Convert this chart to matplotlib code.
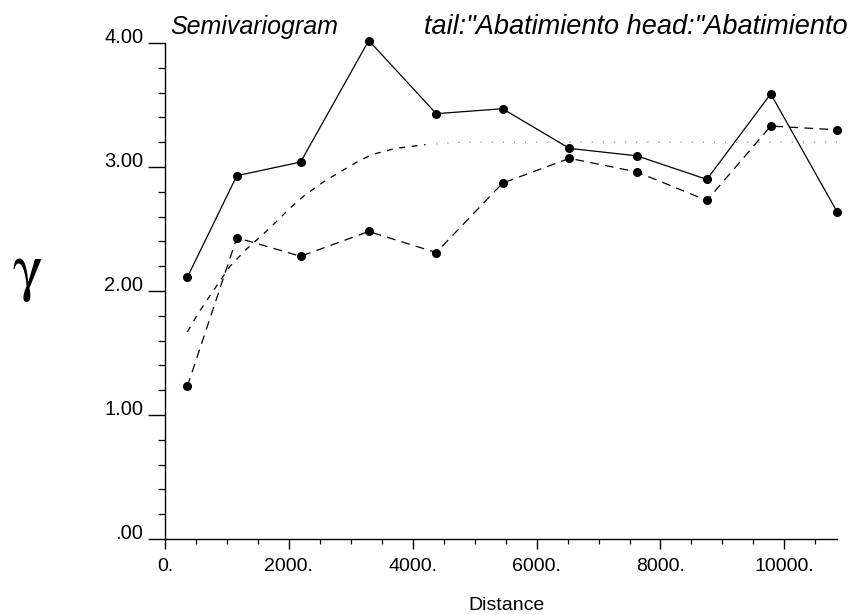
import matplotlib
matplotlib.use("Agg")
import matplotlib.pyplot as plt
from matplotlib.ticker import MultipleLocator

# Lag distances shared by both experimental semivariograms
lag_distance = [360, 1160, 2190, 3290, 4380, 5450, 6530, 7620, 8750, 9780, 10850]
# Experimental semivariogram values
gamma_solid = [2.11, 2.93, 3.04, 4.02, 3.43, 3.47, 3.15, 3.09, 2.90, 3.59, 2.64]
gamma_dashed = [1.23, 2.43, 2.28, 2.48, 2.31, 2.87, 3.07, 2.96, 2.73, 3.33, 3.30]

# Fitted model curve (rising part and sill)
model_distance = [360, 550, 750, 1050, 1320, 1590, 1800, 2020, 2250, 2560,
                  2790, 3100, 3340, 3720, 4200]
model_gamma = [1.67, 1.83, 1.98, 2.20, 2.34, 2.46, 2.56, 2.67, 2.77, 2.88,
               2.95, 3.04, 3.10, 3.15, 3.18]
sill_distance = [4200, 4800, 10850]
sill_gamma = [3.18, 3.20, 3.20]

y_ticks = [0, 1, 2, 3, 4]
y_tick_labels = [".00", "1.00", "2.00", "3.00", "4.00"]
x_ticks = [0, 2000, 4000, 6000, 8000, 10000]
x_tick_labels = ["0.", "2000.", "4000.", "6000.", "8000.", "10000."]

plt.rcParams["font.family"] = ["Liberation Sans", "DejaVu Sans"]

W, H = 851, 615
fig = plt.figure(figsize=(W / 100, H / 100), dpi=100)
ax = fig.add_axes([165 / W, 1 - 539 / H, (837 - 165) / W, (539 - 43) / H])

ax.plot(lag_distance, gamma_solid, color="black", lw=0.9, ls="-",
        marker="o", ms=5.5, clip_on=False, zorder=3)
ax.plot(lag_distance, gamma_dashed, color="black", lw=0.9, ls=(0, (7, 5)),
        marker="o", ms=5.5, clip_on=False, zorder=3)
ax.plot(model_distance, model_gamma, color="black", lw=0.95, ls=(0, (4.5, 5)),
        clip_on=False, zorder=2)
ax.plot(sill_distance, sill_gamma, color="#777777", lw=0.8, ls=(0, (1, 9)),
        clip_on=False, zorder=2)

ax.set_xlim(0, 10850)
ax.set_ylim(0, 4)
for side in ("top", "right"):
    ax.spines[side].set_visible(False)
for side in ("left", "bottom"):
    ax.spines[side].set_linewidth(1.0)

ax.set_yticks(y_ticks)
ax.set_yticklabels(y_tick_labels)
ax.set_xticks(x_ticks)
ax.set_xticklabels(x_tick_labels)
ax.yaxis.set_minor_locator(MultipleLocator(0.2))
ax.xaxis.set_minor_locator(MultipleLocator(500))

ax.tick_params(axis="y", which="major", direction="out", length=12, width=1.0,
               labelsize=14.5, pad=3.5)
ax.tick_params(axis="y", which="minor", direction="out", length=5, width=0.9)
ax.tick_params(axis="x", which="major", direction="out", length=7.5, width=1.0,
               labelsize=14, pad=6)
ax.tick_params(axis="x", which="minor", direction="out", length=3.5, width=0.9)
for lbl in ax.get_yticklabels():
    lbl.set_verticalalignment("baseline")

fig.text(506 / W, 1 - 605 / H, "Distance", ha="center", va="center", fontsize=14)
fig.text(27 / W, 1 - 274 / H, r"$\mathrm{\gamma}$", ha="center", va="center",
         fontsize=46, math_fontfamily="stix")

fig.text(170 / W, 1 - 34 / H, "Semivariogram", ha="left", va="baseline",
         fontsize=18, style="italic")
fig.text(848 / W, 1 - 34 / H, "tail:\"Abatimiento head:\"Abatimiento",
         ha="right", va="baseline", fontsize=19.5, style="italic")

fig.savefig("out.png", dpi=100, facecolor="white")
